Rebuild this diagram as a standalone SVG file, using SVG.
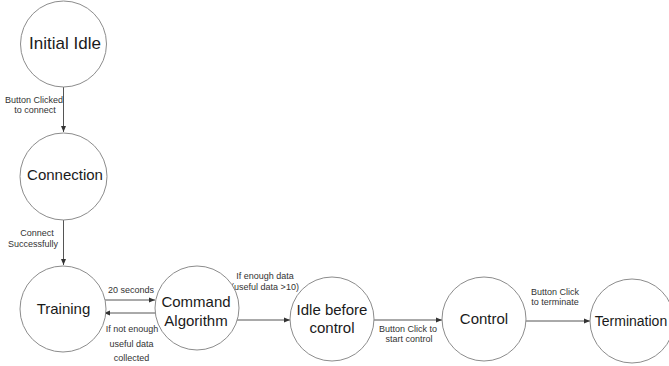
<svg xmlns="http://www.w3.org/2000/svg" width="669" height="366" viewBox="0 0 669 366">
<style>
.n{fill:#fff;stroke:#8c8c8c;stroke-width:1}
.t{font-family:"Liberation Sans",Arial,sans-serif;font-size:15px;fill:#1a1a1a;text-anchor:middle}
.l{font-family:"Liberation Sans",Arial,sans-serif;font-size:9px;fill:#333;text-anchor:middle}
.e{stroke:#555;stroke-width:1;fill:none;marker-end:url(#a)}
</style>
<defs>
<marker id="a" viewBox="0 0 6 6" refX="6" refY="3" markerWidth="6" markerHeight="6" orient="auto" markerUnits="userSpaceOnUse">
<path d="M0,0.5 L6,3 L0,5.5 Z" fill="#333"/>
</marker>
</defs>
<rect width="669" height="366" fill="#fff"/>
<g id="connectors">
<line class="e" x1="63.5" y1="87" x2="63.5" y2="132"/>
<line class="e" x1="63.5" y1="220" x2="63.5" y2="265"/>
<line class="e" x1="104" y1="300" x2="155" y2="300"/>
<line class="e" x1="155" y1="313" x2="104" y2="313"/>
<line class="e" x1="237" y1="320" x2="290" y2="320"/>
<line class="e" x1="374" y1="320" x2="442" y2="320"/>
<line class="e" x1="526" y1="321" x2="590" y2="321"/>
<text class="l" x="34" y="103">Button Clicked</text>
<text class="l" x="35" y="113">to connect</text>
<text class="l" x="37" y="236">Connect</text>
<text class="l" x="33" y="247">Successfully</text>
<text class="l" x="131" y="293">20 seconds</text>
<text class="l" x="132" y="332">If not enough</text>
<text class="l" x="131.5" y="347">useful data</text>
<text class="l" x="131.5" y="361">collected</text>
<text class="l" x="265" y="279">If enough data</text>
<text class="l" x="265" y="290">(useful data &gt;10)</text>
<text class="l" x="408" y="332">Button Click to</text>
<text class="l" x="409" y="342">start control</text>
<text class="l" x="555" y="295">Button Click</text>
<text class="l" x="555" y="305">to terminate</text>
</g>
<g id="initial-idle">
<circle class="n" cx="63.5" cy="44" r="43"/>
<text class="t" x="65" y="49" style="font-size:17px">Initial Idle</text>
</g>
<g id="connection">
<circle class="n" cx="63.5" cy="176.5" r="43.5"/>
<text class="t" x="65" y="180">Connection</text>
</g>
<g id="training">
<circle class="n" cx="63" cy="309" r="43"/>
<text class="t" x="63.5" y="314">Training</text>
</g>
<g id="command-algorithm">
<circle class="n" cx="197" cy="308" r="42"/>
<text class="t" x="196" y="307">Command</text>
<text class="t" x="196" y="326">Algorithm</text>
</g>
<g id="idle-before-control">
<circle class="n" cx="332" cy="319" r="42"/>
<text class="t" x="332" y="315">Idle before</text>
<text class="t" x="332" y="333">control</text>
</g>
<g id="control">
<circle class="n" cx="484" cy="319" r="42"/>
<text class="t" x="484" y="324">Control</text>
</g>
<g id="termination">
<circle class="n" cx="632" cy="321" r="42"/>
<text class="t" x="631" y="326" style="font-size:14px">Termination</text>
</g>
</svg>
